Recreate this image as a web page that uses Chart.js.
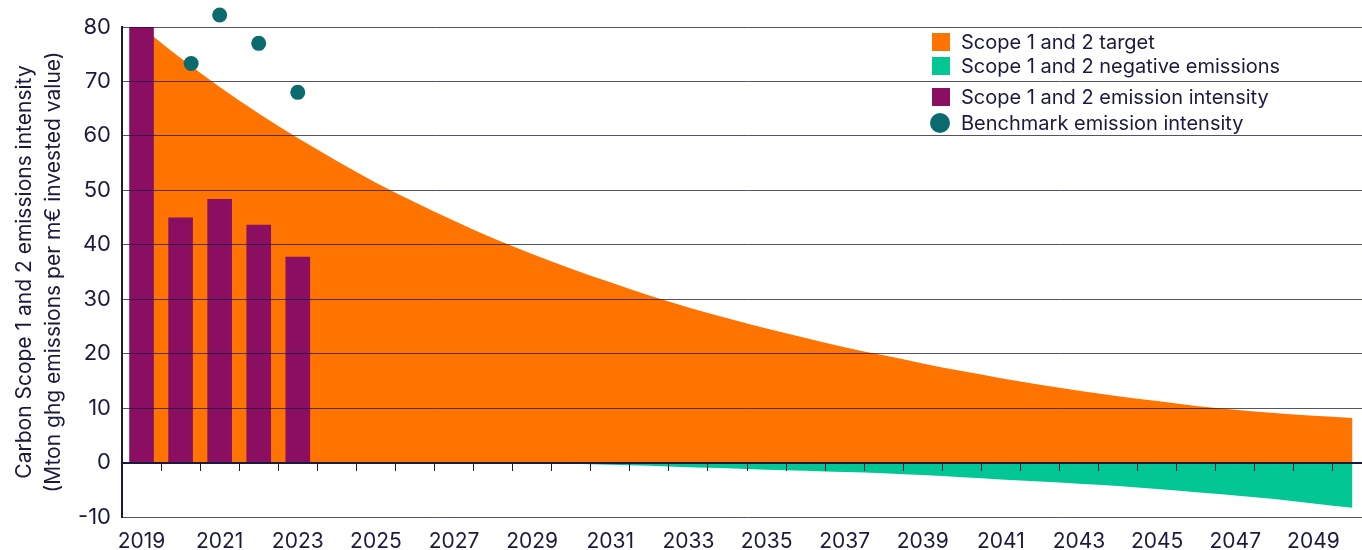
<!DOCTYPE html>
<html>
<head>
<meta charset="utf-8">
<script src="https://cdn.jsdelivr.net/npm/chart.js@4.4.1/dist/chart.umd.min.js"></script>
<style>
  body { margin: 0; overflow: hidden; background: #fff; font-family: Inter, sans-serif; }
  #wrap { position: relative; width: 1392px; height: 550px; }
  .item { position: absolute; left: 932px; height: 24px; display: flex; align-items: center;
          white-space: nowrap; color: #1b1a3d; font-size: 20px; }
  .swatch { width: 18px; height: 18px; margin-right: 11px; }
  .dot { width: 20px; height: 20px; border-radius: 50%; margin-left: -2px; margin-right: 11px; }
</style>
</head>
<body>
<div id="wrap">
  <canvas id="emissionsChart" width="1392" height="550"></canvas>
  <div id="legend"></div>
</div>
<script>
// Данные графика
const years = ['2019', '2020', '2021', '2022', '2023', '2024', '2025', '2026', '2027', '2028',
               '2029', '2030', '2031', '2032', '2033', '2034', '2035', '2036', '2037', '2038',
               '2039', '2040', '2041', '2042', '2043', '2044', '2045', '2046', '2047', '2048',
               '2049', '2050'];
const targetValues = [80, 74.3, 69.0, 64.1, 59.6, 55.4, 51.4, 47.8, 44.4, 41.2,
                      38.3, 35.6, 33.1, 30.7, 28.5, 26.5, 24.6, 22.9, 21.2, 19.7,
                      18.2, 16.8, 15.5, 14.3, 13.2, 12.2, 11.3, 10.4, 9.7, 9.1,
                      8.6, 8.2];
const negativeValues = [0, 0, 0, 0, 0, 0, 0, 0, 0, 0,
                        -0.05, -0.2, -0.4, -0.6, -0.85, -1.05, -1.3, -1.5, -1.75, -1.95,
                        -2.3, -2.7, -3.1, -3.5, -3.9, -4.3, -4.85, -5.45, -6.05, -6.7,
                        -7.5, -8.3];
const intensityValues = [80, 45.0, 48.4, 43.7, 37.8];
const benchmarkYears = [2020.27, 2021, 2022, 2023];
const benchmarkValues = [73.3, 82.2, 77.0, 68.0];
const yMin = -10;
const yMax = 80;
const yStep = 10;

const NAVY = '#1b1a3d';
const GRID = 'rgba(27, 26, 61, 0.75)';
const COLORS = {
    target: '#ff7300',
    negative: '#02c694',
    intensity: '#8a0e62',
    benchmark: '#0b6a6e'
};

// Легенда
const legendItems = [
    { label: 'Scope 1 and 2 target', color: COLORS.target, shape: 'swatch', top: 29.5 },
    { label: 'Scope 1 and 2 negative emissions', color: COLORS.negative, shape: 'swatch', top: 54 },
    { label: 'Scope 1 and 2 emission intensity', color: COLORS.intensity, shape: 'swatch', top: 85 },
    { label: 'Benchmark emission intensity', color: COLORS.benchmark, shape: 'dot', top: 110.5 }
];

function buildLegend() {
    const legend = document.getElementById('legend');
    legendItems.forEach(item => {
        const row = document.createElement('div');
        row.className = 'item';
        row.style.top = item.top + 'px';
        row.innerHTML = `<span class="${item.shape}" style="background:${item.color}"></span><span>${item.label}</span>`;
        legend.appendChild(row);
    });
}

// График
function createEmissionsChart() {
    const ctx = document.getElementById('emissionsChart').getContext('2d');
    new Chart(ctx, {
        type: 'bar',
        data: {
            labels: years,
            datasets: [
                {
                    type: 'line',
                    label: 'Benchmark emission intensity',
                    data: benchmarkYears.map((x, i) => ({ x: x, y: benchmarkValues[i] })),
                    xAxisID: 'xLin',
                    showLine: false,
                    pointRadius: 7.5,
                    pointHoverRadius: 20,
                    pointBackgroundColor: COLORS.benchmark,
                    pointBorderWidth: 0,
                    clip: false,
                    order: 0
                },
                {
                    label: 'Scope 1 and 2 emission intensity',
                    data: intensityValues,
                    xAxisID: 'x',
                    backgroundColor: COLORS.intensity,
                    grouped: false,
                    categoryPercentage: 1,
                    barPercentage: 0.63,
                    order: 1
                },
                {
                    type: 'line',
                    label: 'Scope 1 and 2 target',
                    data: targetValues,
                    xAxisID: 'x',
                    backgroundColor: COLORS.target,
                    borderWidth: 0,
                    pointRadius: 0,
                    fill: 'origin',
                    cubicInterpolationMode: 'monotone',
                    order: 2
                },
                {
                    type: 'line',
                    label: 'Scope 1 and 2 negative emissions',
                    data: negativeValues,
                    xAxisID: 'x',
                    backgroundColor: COLORS.negative,
                    borderWidth: 0,
                    pointRadius: 0,
                    fill: 'origin',
                    cubicInterpolationMode: 'monotone',
                    order: 3
                }
            ]
        },
        options: {
            responsive: false,
            animation: false,
            layout: { padding: { top: 27, right: 2, left: 0, bottom: 0 } },
            plugins: {
                legend: { display: false },
                tooltip: { enabled: false }
            },
            scales: {
                x: {
                    type: 'category',
                    offset: true,
                    grid: { display: false, offset: true, drawTicks: false },
                    border: { display: false },
                    ticks: {
                        autoSkip: false,
                        maxRotation: 0,
                        padding: 12,
                        color: NAVY,
                        font: { family: 'Inter', size: 21 },
                        callback: function(value, index) {
                            return index % 2 === 0 ? years[index] : '';
                        }
                    },
                    afterFit: function(scale) { scale.height = 33; }
                },
                x2: {
                    type: 'category',
                    position: { y: 0 },
                    offset: true,
                    grid: { offset: true, drawOnChartArea: false, drawTicks: true, tickLength: 7,
                            color: NAVY, lineWidth: 1, z: 1 },
                    border: { display: true, color: NAVY, width: 2, z: 1 },
                    ticks: { display: false }
                },
                xLin: {
                    type: 'linear',
                    display: false,
                    offset: false,
                    grid: { offset: false },
                    min: 2018.5,
                    max: 2050.5
                },
                y: {
                    min: yMin,
                    max: yMax,
                    ticks: {
                        stepSize: yStep,
                        padding: 11,
                        color: NAVY,
                        font: { family: 'Inter', size: 22 }
                    },
                    grid: { color: GRID, lineWidth: 1, drawTicks: false, z: 1 },
                    border: { display: true, color: NAVY, width: 2, z: 1 },
                    title: {
                        display: true,
                        text: ['Carbon Scope 1 and 2 emissions intensity',
                               '(Mton ghg emissions per m€ invested value)'],
                        color: NAVY,
                        font: { family: 'Inter', size: 21, lineHeight: 1.35 },
                        padding: { top: 11, bottom: 0 }
                    },
                    afterFit: function(scale) { scale.width = 122; }
                }
            }
        }
    });
}

document.addEventListener('DOMContentLoaded', function() {
    buildLegend();
    createEmissionsChart();
});
</script>
</body>
</html>
